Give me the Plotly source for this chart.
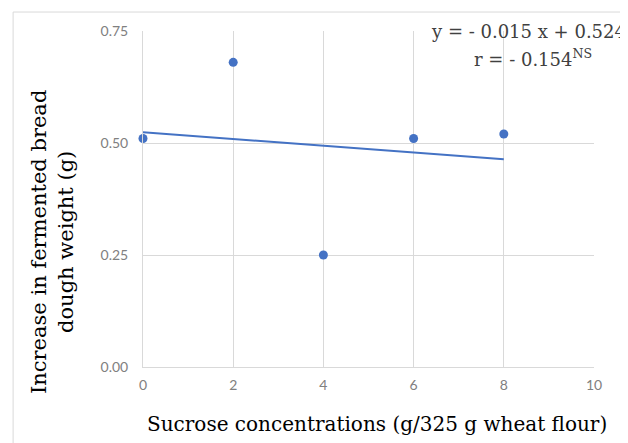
import numpy as np
import plotly.graph_objects as go

sucrose = [0, 2, 4, 6, 8]
weight_increase = [0.51, 0.68, 0.25, 0.51, 0.52]
x_ticks = [0, 2, 4, 6, 8, 10]
y_ticks = [0.0, 0.25, 0.5, 0.75]
y_tick_labels = ["0.00", "0.25", "0.50", "0.75"]
equation_text = "y = - 0.015 x + 0.524"
r_text = "r = - 0.154<sup>NS</sup>"
x_title = "Sucrose concentrations (g/325 g wheat flour)"
y_title = "Increase in fermented bread<br>dough weight (g)"

slope, intercept = np.polyfit(sucrose, weight_increase, 1)
fit_x = [sucrose[0], sucrose[-1]]
fit_y = [intercept + slope * v for v in fit_x]

blue = "#4472C4"
grid = "#D9D9D9"
tick_font = dict(family="Lato, sans-serif", size=14, color="#808080")
serif = "DejaVu Serif, serif"
x_title_font = dict(family=serif, size=20, color="#000000")
y_title_font = dict(family=serif, size=21, color="#000000")
eq_font = dict(family=serif, size=18, color="#404040")

fig = go.Figure()
fig.add_trace(go.Scatter(x=sucrose, y=weight_increase, mode="markers",
                         marker=dict(color=blue, size=9), showlegend=False, cliponaxis=False))
fig.add_trace(go.Scatter(x=fit_x, y=fit_y, mode="lines",
                         line=dict(color=blue, width=2), showlegend=False))

fig.update_layout(
    width=620, height=435,
    margin=dict(l=135, r=34, t=23, b=76),
    paper_bgcolor="white", plot_bgcolor="white",
    xaxis=dict(range=[0, 10], tickvals=x_ticks, showgrid=True, gridcolor=grid, gridwidth=1,
               zeroline=False, showline=True, linecolor=grid, linewidth=1,
               tickfont=tick_font, ticks="", ticklen=0, ticklabelstandoff=5),
    yaxis=dict(range=[0, 0.75], tickvals=y_ticks, ticktext=y_tick_labels, showgrid=True, gridcolor=grid,
               gridwidth=1, zeroline=False, showline=True, linecolor=grid, linewidth=1,
               tickfont=tick_font, ticks="", ticklen=0, ticklabelstandoff=11),
    shapes=[dict(type="rect", xref="paper", yref="paper", x0=-0.288, x1=1.3, y0=-0.5, y1=1.0565,
                 line=dict(color="#D9D9D9", width=1), fillcolor="rgba(0,0,0,0)", layer="below")],
    annotations=[
        dict(text=x_title, xref="paper", yref="paper", x=0.519, y=-0.170, xanchor="center", yanchor="middle",
             showarrow=False, font=x_title_font),
        dict(text=y_title, xref="paper", yref="paper", x=-0.2018, y=0.372, xanchor="center", yanchor="middle",
             textangle=-90, showarrow=False, font=y_title_font),
        dict(text=equation_text, xref="paper", yref="paper", x=0.634, y=0.998, xanchor="left", yanchor="middle",
             showarrow=False, font=eq_font),
        dict(text=r_text, xref="paper", yref="paper", x=0.730, y=0.92, xanchor="left", yanchor="middle",
             showarrow=False, font=eq_font),
    ],
)

fig.write_html("out.html")
